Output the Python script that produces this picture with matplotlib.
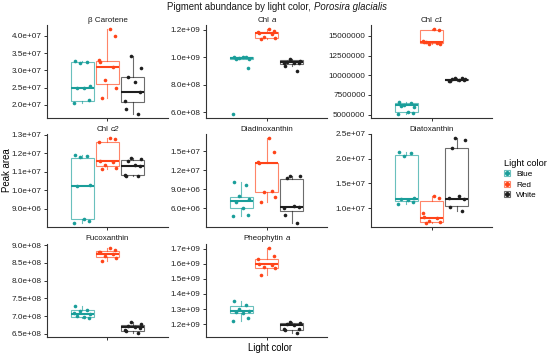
import numpy as np
import matplotlib
matplotlib.use("Agg")
import matplotlib.pyplot as plt
from matplotlib.patches import Rectangle
from matplotlib.lines import Line2D

plt.rcParams['font.family'] = ['Liberation Sans', 'DejaVu Sans']

groups = ["Blue", "Red", "White"]
colors = ["#1a9e9a", "#ff4419", "#1e1e1e"]

# points per light colour, box stats are [q1, median, q3]
carotene_pts = {"Blue": np.array([3.28, 3.25, 3.21, 2.55, 2.48, 2.48, 2.13, 2.06]) * 1e7,
                "Red": np.array([4.19, 4.0, 3.29, 3.24, 3.1, 2.71, 2.49, 2.19]) * 1e7,
                "White": np.array([3.4, 3.07, 2.8, 2.65, 2.38, 2.12, 1.87, 1.74]) * 1e7}
carotene_box = {"Blue": [2.12e7, 2.48e7, 3.23e7], "Red": [2.6e7, 3.1e7, 3.26e7],
                "White": [2.08e7, 2.38e7, 2.8e7]}

chla_pts = {"Blue": np.array([1.005, 1.0, 0.995, 0.99, 0.985, 1.0, 0.925, 0.588]) * 1e9,
            "Red": np.array([1.205, 1.193, 1.185, 1.18, 1.173, 1.149, 1.141, 1.137]) * 1e9,
            "White": np.array([0.985, 0.973, 0.966, 0.961, 0.956, 0.96, 0.937, 0.902]) * 1e9}
chla_box = {"Blue": [0.985e9, 0.995e9, 1.002e9], "Red": [1.141e9, 1.175e9, 1.188e9],
            "White": [0.954e9, 0.966e9, 0.98e9]}

chlc1_pts = {"Blue": np.array([6.67, 6.46, 6.25, 6.04, 6.15, 5.33, 5.25, 5.12]) * 1e6,
             "Red": np.array([15.83, 15.75, 14.29, 14.17, 14.08, 14.0, 13.92, 14.2]) * 1e6,
             "White": np.array([9.67, 9.5, 9.52, 9.42, 9.4, 9.33, 9.25, 9.6]) * 1e6}
chlc1_box = {"Blue": [5.33e6, 6.17e6, 6.46e6], "Red": [14.08e6, 14.17e6, 15.75e6],
             "White": [9.38e6, 9.46e6, 9.58e6]}

chlc2_pts = {"Blue": np.array([11.91, 11.84, 11.79, 10.27, 10.23, 8.45, 8.30, 8.23]) * 1e6,
             "Red": np.array([12.82, 12.77, 12.63, 11.59, 11.55, 11.34, 11.23, 11.16]) * 1e6,
             "White": np.array([11.73, 11.70, 11.61, 11.34, 11.30, 10.80, 10.77, 10.79]) * 1e6}
chlc2_box = {"Blue": [8.43e6, 10.23e6, 11.75e6], "Red": [11.29e6, 11.59e6, 12.59e6],
             "White": [10.80e6, 11.30e6, 11.66e6]}

diadino_pts = {"Blue": np.array([10.18, 9.66, 7.88, 7.46, 7.04, 6.0, 4.95, 4.74]) * 1e6,
               "Red": np.array([17.04, 14.79, 13.22, 13.17, 8.77, 8.61, 7.72, 7.04]) * 1e6,
               "White": np.array([11.13, 11.02, 10.81, 6.31, 6.20, 6.0, 4.95, 3.69]) * 1e6}
diadino_box = {"Blue": [6.0e6, 7.09e6, 7.83e6], "Red": [8.61e6, 13.17e6, 13.2e6],
               "White": [5.47e6, 6.15e6, 10.55e6]}

diato_pts = {"Blue": np.array([21.3, 21.1, 20.6, 12.0, 11.9, 11.75, 11.35, 10.9]) * 1e6,
             "Red": np.array([12.56, 12.15, 9.0, 8.2, 8.0, 7.45, 7.2, 7.05]) * 1e6,
             "White": np.array([24.1, 23.86, 22.1, 12.56, 11.9, 12.0, 10.2, 9.5]) * 1e6}
diato_box = {"Blue": [11.55e6, 11.9e6, 20.76e6], "Red": [7.3e6, 8.1e6, 11.5e6],
             "White": [10.4e6, 11.9e6, 22.1e6]}

fuco_pts = {"Blue": np.array([7.29, 7.18, 7.15, 7.06, 7.01, 6.98, 6.95, 7.1]) * 1e8,
            "Red": np.array([8.91, 8.86, 8.81, 8.79, 8.74, 8.69, 8.64, 8.54]) * 1e8,
            "White": np.array([6.83, 6.78, 6.73, 6.70, 6.66, 6.62, 6.57, 6.53]) * 1e8}
fuco_box = {"Blue": [6.98e8, 7.06e8, 7.18e8], "Red": [8.67e8, 8.74e8, 8.82e8],
            "White": [6.59e8, 6.68e8, 6.75e8]}

pheo_pts = {"Blue": np.array([1.356, 1.327, 1.301, 1.29, 1.279, 1.272, 1.239, 1.224]) * 1e9,
            "Red": np.array([1.702, 1.652, 1.634, 1.597, 1.59, 1.575, 1.568, 1.525]) * 1e9,
            "White": np.array([1.213, 1.209, 1.204, 1.196, 1.169, 1.165, 1.16, 1.143]) * 1e9}
pheo_box = {"Blue": [1.272e9, 1.29e9, 1.323e9], "Red": [1.573e9, 1.595e9, 1.634e9],
            "White": [1.163e9, 1.193e9, 1.209e9]}

# strip titles as (text, italic?) pieces
panels = [
    ([("β Carotene", False)], carotene_pts, carotene_box, np.arange(2.0e7, 4.01e7, 0.5e7), "%.1e"),
    ([("Chl", False), ("a", True)], chla_pts, chla_box, [6e8, 8e8, 1.0e9, 1.2e9], "%.1e"),
    ([("Chl", False), ("c1", True)], chlc1_pts, chlc1_box, [5e6, 7.5e6, 1e7, 1.25e7, 1.5e7], "%d"),
    ([("Chl", False), ("c2", True)], chlc2_pts, chlc2_box, [9e6, 1e7, 1.1e7, 1.2e7, 1.3e7], "%.1e"),
    ([("Diadinoxanthin", False)], diadino_pts, diadino_box, [6e6, 9e6, 1.2e7, 1.5e7], "%.1e"),
    ([("Diatoxanthin", False)], diato_pts, diato_box, [1e7, 1.5e7, 2e7, 2.5e7], "%.1e"),
    ([("Fucoxanthin", False)], fuco_pts, fuco_box, np.arange(6.5e8, 9.01e8, 0.5e8), "%.1e"),
    ([("Pheophytin", False), ("a", True)], pheo_pts, pheo_box, np.arange(1.2e9, 1.71e9, 1e8), "%.1e"),
]

jitter = [-0.07, 0.05, -0.02, 0.08, -0.05, 0.02, 0.07, -0.08]
offsets = [-0.25, 0.0, 0.25]

W, H = 550, 356
fig = plt.figure(figsize=(5.5, 3.56), dpi=100)
renderer = fig.canvas.get_renderer()


def rich_text(xc, ytop, parts, size, **kw):
    # lay pieces side by side, centred on xc (pixels), one space apart
    gap = 0.28 * size * 100 / 72
    texts, widths = [], []
    for s, it in parts:
        t = fig.text(0, 1 - ytop / H, s, fontsize=size, style="italic" if it else "normal",
                     va="center", ha="left", **kw)
        texts.append(t)
        widths.append(t.get_window_extent(renderer).width)
    x = xc - (sum(widths) + gap * (len(parts) - 1)) / 2
    for t, w in zip(texts, widths):
        t.set_x(x / W)
        x += w + gap


col_left = [47, 206, 371]
row_top = [25, 134, 244]
pw, ph = 121, 93

for i, (name, pts, box, ticks, fmt) in enumerate(panels):
    r, c = divmod(i, 3)
    ax = fig.add_axes([col_left[c] / W, 1 - (row_top[r] + ph) / H, pw / W, ph / H])
    allv = []
    for j, g in enumerate(groups):
        v = np.asarray(pts[g])
        q1, med, q3 = box[g]
        iqr = q3 - q1
        inside = v[(v >= q1 - 1.5 * iqr) & (v <= q3 + 1.5 * iqr)]
        stats = dict(q1=q1, med=med, q3=q3,
                     whislo=min(inside.min(), q1), whishi=max(inside.max(), q3))
        x = 1 + offsets[j]
        ax.bxp([stats], positions=[x], widths=0.225, showfliers=False, showcaps=False,
               patch_artist=True,
               boxprops=dict(facecolor="white", edgecolor=colors[j], alpha=0.65, linewidth=0.8),
               whiskerprops=dict(color=colors[j], alpha=0.65, linewidth=0.8),
               medianprops=dict(color=colors[j], linewidth=1.5))
        jj = np.roll(jitter, j * 3)[:len(v)]
        ax.plot(x + jj, v, "o", color=colors[j], markersize=2.6, markeredgewidth=0, zorder=5)
        allv.extend(v)
    lo, hi = min(allv), max(allv)
    pad = (hi - lo) * 0.05
    ax.set_ylim(lo - pad, hi + pad)
    ax.set_xlim(0.4, 1.6)
    ax.set_xticks([1])
    ax.set_xticklabels([""])
    ax.set_yticks(ticks)
    ax.set_yticklabels([fmt % t for t in ticks])
    for s in ["top", "right"]:
        ax.spines[s].set_visible(False)
    for s in ["left", "bottom"]:
        ax.spines[s].set_color("#333333")
        ax.spines[s].set_linewidth(0.8)
    ax.tick_params(labelsize=5.9, length=2.5, width=0.7, color="#333333", pad=1.5,
                   labelcolor="#222222")
    rich_text(col_left[c] + pw / 2, row_top[r] - 5, name, 5.8, color="#1a1a1a")

rich_text(277, 7, [("Pigment abundance by light color,", False), ("Porosira glacialis", True)],
          6.9, color="#1a1a1a")
fig.text(270 / W, 1 - 348 / H, "Light color", ha="center", va="center", fontsize=6.9)
fig.text(7 / W, 1 - 170 / H, "Peak area", ha="center", va="center", rotation=90, fontsize=6.9)

handles = []
for j, g in enumerate(groups):
    rect = Rectangle((0, 0), 1, 1, facecolor="white", edgecolor=colors[j], alpha=0.65, linewidth=0.8)
    dot = Line2D([], [], marker="o", linestyle="", color=colors[j], markersize=2.6)
    handles.append((rect, dot))
fig.legend(handles, groups, title="Light color", loc="upper left",
           bbox_to_anchor=(502 / W, 1 - 157 / H), frameon=False, fontsize=5.9,
           title_fontsize=6.7, handlelength=0.8, handleheight=0.8, handletextpad=0.7,
           labelspacing=0.3, borderpad=0.2, borderaxespad=0, alignment="left")

fig.savefig("out.png", dpi=100)
